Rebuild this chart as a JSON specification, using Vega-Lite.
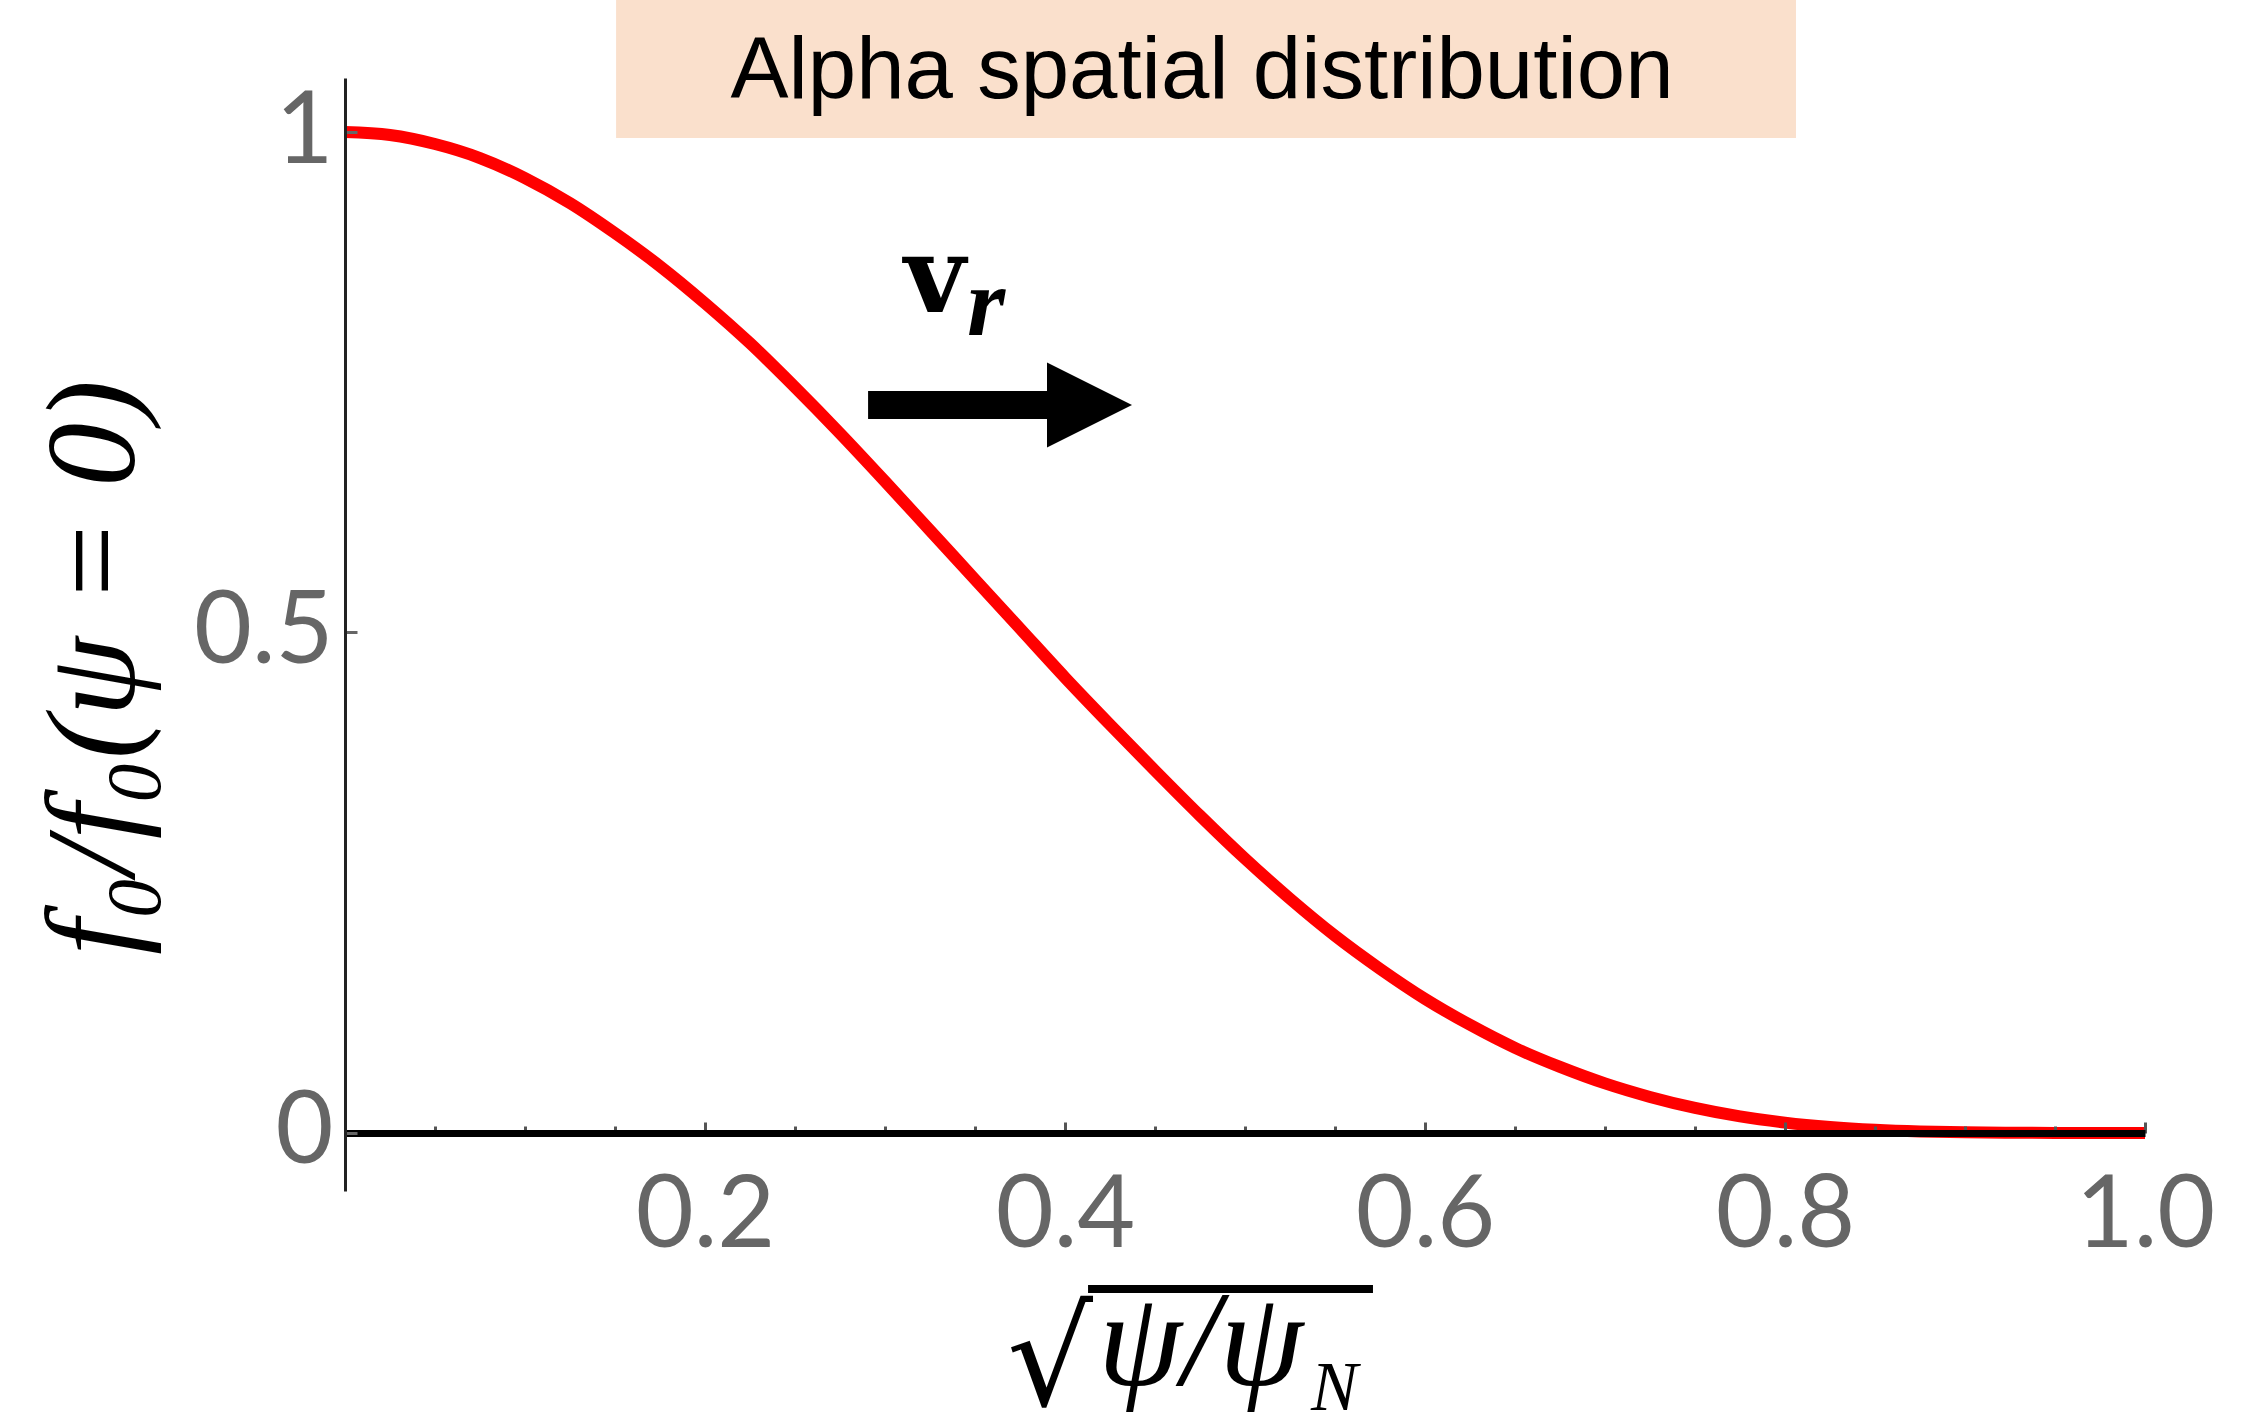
{
  "$schema": "https://vega.github.io/schema/vega-lite/v6.json",
  "width": 1800,
  "height": 1113,
  "autosize": {"type": "none"},
  "padding": {"left": 345, "top": 78, "right": 110, "bottom": 221},
  "background": "white",
  "config": {"view": {"stroke": null}},
  "datasets": {
    "curve": [
      {"x": 0.0, "f": 1.0},
      {"x": 0.025, "f": 0.997},
      {"x": 0.05, "f": 0.988},
      {"x": 0.075, "f": 0.974},
      {"x": 0.1, "f": 0.954},
      {"x": 0.125, "f": 0.929},
      {"x": 0.15, "f": 0.899},
      {"x": 0.175, "f": 0.866},
      {"x": 0.2, "f": 0.829},
      {"x": 0.225, "f": 0.789},
      {"x": 0.25, "f": 0.745},
      {"x": 0.275, "f": 0.699},
      {"x": 0.3, "f": 0.651},
      {"x": 0.325, "f": 0.602},
      {"x": 0.35, "f": 0.553},
      {"x": 0.375, "f": 0.504},
      {"x": 0.4, "f": 0.455},
      {"x": 0.425, "f": 0.408},
      {"x": 0.45, "f": 0.362},
      {"x": 0.475, "f": 0.317},
      {"x": 0.5, "f": 0.274},
      {"x": 0.525, "f": 0.234},
      {"x": 0.55, "f": 0.197},
      {"x": 0.575, "f": 0.164},
      {"x": 0.6, "f": 0.134},
      {"x": 0.625, "f": 0.108},
      {"x": 0.65, "f": 0.085},
      {"x": 0.675, "f": 0.066},
      {"x": 0.7, "f": 0.0495},
      {"x": 0.725, "f": 0.036},
      {"x": 0.75, "f": 0.025},
      {"x": 0.775, "f": 0.0165},
      {"x": 0.8, "f": 0.0103},
      {"x": 0.825, "f": 0.006},
      {"x": 0.85, "f": 0.0032},
      {"x": 0.875, "f": 0.0015},
      {"x": 0.9, "f": 0.0006},
      {"x": 0.925, "f": 0.0002},
      {"x": 0.95, "f": 0.0},
      {"x": 1.0, "f": 0.0}
    ],
    "banner": [{"x": 0.1506, "x2": 0.8061, "y": 1.1319, "y2": 0.994}],
    "bannerText": [{"x": 0.4761, "y": 1.034, "label": "Alpha spatial distribution"}],
    "shaft": [{"x": 0.2906, "x2": 0.4, "y": 0.7273}],
    "head": [{"x": 0.4136, "y": 0.7273}],
    "vText": [{"x": 0.3106, "y": 0.8202, "label": "v"}],
    "rText": [{"x": 0.3456, "y": 0.7972, "label": "r"}],
    "radical": [{"x": 0.4156, "y": -0.2717, "label": "√"}],
    "psiText": [{"x": 0.4183, "y": -0.2517, "label": "ψ/ψ"}],
    "nText": [{"x": 0.5367, "y": -0.2767, "label": "N"}],
    "vinculum": [{"x": 0.4128, "x2": 0.5711, "y": -0.1558}]
  },
  "layer": [
    {
      "data": {"name": "curve"},
      "mark": {"type": "line", "color": "#ff0000", "strokeWidth": 12, "interpolate": "monotone"},
      "encoding": {
        "x": {
          "field": "x", "type": "quantitative",
          "scale": {"domain": [0, 1], "nice": false, "zero": false},
          "axis": {
            "values": [0.05, 0.1, 0.15, 0.2, 0.25, 0.3, 0.35, 0.4, 0.45, 0.5, 0.55, 0.6, 0.65, 0.7, 0.75, 0.8, 0.85, 0.9, 0.95, 1.0],
            "labelExpr": "abs(datum.value*5 - round(datum.value*5)) < 0.001 ? format(datum.value, '.1f') : ''",
            "offset": -58,
            "domainColor": "black",
            "domainWidth": 7,
            "tickColor": "#555555",
            "tickWidth": 3,
            "tickSize": {"condition": {"test": "abs(datum.value*5 - round(datum.value*5)) < 0.001", "value": -11}, "value": -7},
            "labelFont": "Lato",
            "labelFontSize": 100,
            "labelColor": "#666666",
            "labelPadding": 45,
            "labelFlush": false,
            "labelOverlap": false,
            "labelBaseline": "top",
            "grid": false,
            "title": null,
            "zindex": 1
          }
        },
        "y": {
          "field": "f", "type": "quantitative",
          "scale": {"domain": [-0.058, 1.054], "nice": false, "zero": false},
          "axis": {
            "values": [0, 0.5, 1],
            "format": "~g",
            "domainColor": "#222222",
            "domainWidth": 3,
            "tickColor": "#666666",
            "tickWidth": 3,
            "tickSize": -12,
            "labelFont": "Lato",
            "labelFontSize": 100,
            "labelColor": "#666666",
            "labelPadding": 24,
            "labelBaseline": "middle",
            "labelFlush": false,
            "labelOverlap": false,
            "grid": false,
            "title": "f₀/f₀(ψ = 0)",
            "titleFont": "Liberation Serif",
            "titleFontStyle": "italic",
            "titleFontWeight": "normal",
            "titleFontSize": 128,
            "titleColor": "black",
            "titleAngle": -90,
            "titleX": -212,
            "titleY": 589,
            "titleAlign": "center",
            "titleBaseline": "alphabetic",
            "zindex": 1
          }
        }
      }
    },
    {
      "data": {"name": "banner"},
      "mark": {"type": "rect", "color": "#fae0cc"},
      "encoding": {
        "x": {"field": "x", "type": "quantitative", "scale": {"domain": [0, 1], "nice": false, "zero": false}},
        "x2": {"field": "x2"},
        "y": {"field": "y", "type": "quantitative", "scale": {"domain": [-0.058, 1.054], "nice": false, "zero": false}},
        "y2": {"field": "y2"}
      }
    },
    {
      "data": {"name": "bannerText"},
      "mark": {"type": "text", "font": "Liberation Sans", "fontSize": 87, "color": "black", "align": "center", "baseline": "alphabetic"},
      "encoding": {
        "x": {"field": "x", "type": "quantitative", "scale": {"domain": [0, 1], "nice": false, "zero": false}},
        "y": {"field": "y", "type": "quantitative", "scale": {"domain": [-0.058, 1.054], "nice": false, "zero": false}},
        "text": {"field": "label"}
      }
    },
    {
      "data": {"name": "shaft"},
      "mark": {"type": "rule", "color": "black", "strokeWidth": 28, "strokeCap": "butt"},
      "encoding": {
        "x": {"field": "x", "type": "quantitative", "scale": {"domain": [0, 1], "nice": false, "zero": false}},
        "x2": {"field": "x2"},
        "y": {"field": "y", "type": "quantitative", "scale": {"domain": [-0.058, 1.054], "nice": false, "zero": false}}
      }
    },
    {
      "data": {"name": "head"},
      "mark": {"type": "point", "shape": "M -1 -1 L 1 0 L -1 1 Z", "size": 7225, "filled": true, "color": "black", "opacity": 1, "strokeWidth": 0},
      "encoding": {
        "x": {"field": "x", "type": "quantitative", "scale": {"domain": [0, 1], "nice": false, "zero": false}},
        "y": {"field": "y", "type": "quantitative", "scale": {"domain": [-0.058, 1.054], "nice": false, "zero": false}}
      }
    },
    {
      "data": {"name": "vText"},
      "mark": {"type": "text", "font": "DejaVu Serif", "fontWeight": "bold", "fontSize": 106, "color": "black", "align": "left", "baseline": "alphabetic"},
      "encoding": {
        "x": {"field": "x", "type": "quantitative", "scale": {"domain": [0, 1], "nice": false, "zero": false}},
        "y": {"field": "y", "type": "quantitative", "scale": {"domain": [-0.058, 1.054], "nice": false, "zero": false}},
        "text": {"field": "label"}
      }
    },
    {
      "data": {"name": "rText"},
      "mark": {"type": "text", "font": "Liberation Serif", "fontWeight": "bold", "fontStyle": "italic", "fontSize": 98, "color": "black", "align": "left", "baseline": "alphabetic"},
      "encoding": {
        "x": {"field": "x", "type": "quantitative", "scale": {"domain": [0, 1], "nice": false, "zero": false}},
        "y": {"field": "y", "type": "quantitative", "scale": {"domain": [-0.058, 1.054], "nice": false, "zero": false}},
        "text": {"field": "label"}
      }
    },
    {
      "data": {"name": "radical"},
      "mark": {"type": "text", "font": "DejaVu Sans", "fontWeight": "normal", "fontSize": 135, "color": "black", "align": "right", "baseline": "alphabetic"},
      "encoding": {
        "x": {"field": "x", "type": "quantitative", "scale": {"domain": [0, 1], "nice": false, "zero": false}},
        "y": {"field": "y", "type": "quantitative", "scale": {"domain": [-0.058, 1.054], "nice": false, "zero": false}},
        "text": {"field": "label"}
      }
    },
    {
      "data": {"name": "psiText"},
      "mark": {"type": "text", "font": "Liberation Serif", "fontStyle": "italic", "fontSize": 135, "color": "black", "align": "left", "baseline": "alphabetic"},
      "encoding": {
        "x": {"field": "x", "type": "quantitative", "scale": {"domain": [0, 1], "nice": false, "zero": false}},
        "y": {"field": "y", "type": "quantitative", "scale": {"domain": [-0.058, 1.054], "nice": false, "zero": false}},
        "text": {"field": "label"}
      }
    },
    {
      "data": {"name": "nText"},
      "mark": {"type": "text", "font": "Liberation Serif", "fontStyle": "italic", "fontSize": 70, "color": "black", "align": "left", "baseline": "alphabetic"},
      "encoding": {
        "x": {"field": "x", "type": "quantitative", "scale": {"domain": [0, 1], "nice": false, "zero": false}},
        "y": {"field": "y", "type": "quantitative", "scale": {"domain": [-0.058, 1.054], "nice": false, "zero": false}},
        "text": {"field": "label"}
      }
    },
    {
      "data": {"name": "vinculum"},
      "mark": {"type": "rule", "color": "black", "strokeWidth": 8, "strokeCap": "butt"},
      "encoding": {
        "x": {"field": "x", "type": "quantitative", "scale": {"domain": [0, 1], "nice": false, "zero": false}},
        "x2": {"field": "x2"},
        "y": {"field": "y", "type": "quantitative", "scale": {"domain": [-0.058, 1.054], "nice": false, "zero": false}}
      }
    }
  ]
}
